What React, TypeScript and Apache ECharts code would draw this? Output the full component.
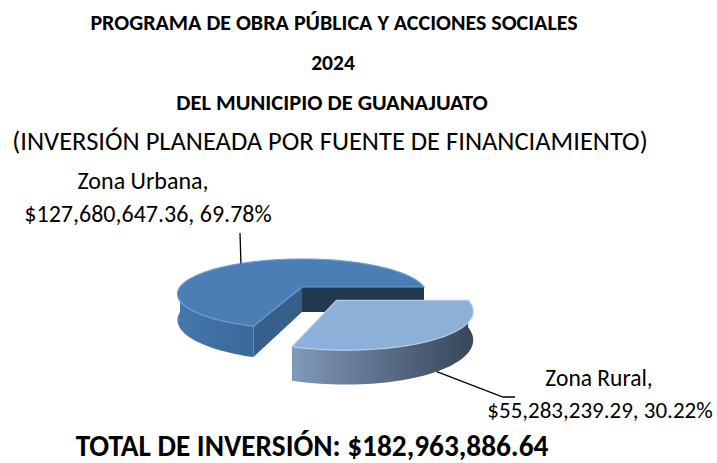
import React, { useEffect, useRef } from "react";
import * as echarts from "echarts";

const categories = ["Zona Urbana", "Zona Rural"];
const values = [127680647.36, 55283239.29];
const explodeRatios = [0, 0.45];
const totalInvestment = 182963886.64;
const titleLines = ["PROGRAMA DE OBRA PÚBLICA Y ACCIONES SOCIALES", "2024", "DEL MUNICIPIO DE GUANAJUATO"];
const subtitle = "(INVERSIÓN PLANEADA POR FUENTE DE FINANCIAMIENTO)";
const totalPrefix = "TOTAL DE INVERSIÓN: ";

const FONT = "Carlito, Lato, 'Open Sans', sans-serif";

const fmtMoney = (v: number) =>
  "$" + v.toLocaleString("en-US", { minimumFractionDigits: 2, maximumFractionDigits: 2 });

// 3D projection params
const CX = 302, CY = 287, R = 122, RS = 33.6, D = 5, H = 25;
const FIRST_ANGLE = 108.8;

const topColors = ["#4A7EB5", "#8DB0D9"];
const rimColors = ["#6E9FD2", "#B4CDEA"];
const wallStops = [
  [
    { offset: 0, color: "#4577AD" },
    { offset: 1, color: "#3A6899" },
  ],
  [
    { offset: 0, color: "#8199B9" },
    { offset: 0.45, color: "#5F738E" },
    { offset: 1, color: "#37465A" },
  ],
];
const startFaceColors = ["#375F8B", "#5A7090"];
const endFaceColors = ["#21384F", "#3A4A5E"];

const labelAnchors: number[][][] = [
  [[240, 233]],
  [[503, 397], [515, 397]],
];

function proj(X: number, Z: number, Y: number): number[] {
  const p = D / (D - Z);
  return [CX + R * X * p, CY + (RS * Z + Y) * p];
}

export default function App() {
  const ref = useRef<HTMLDivElement>(null);
  useEffect(() => {
    const chart = echarts.init(ref.current!, null, { renderer: "svg" });
    const total = values.reduce((a, b) => a + b, 0);

    const renderItem = (params: any, api: any) => {
      const idx = params.dataIndex;
      const val = api.value(0);
      let before = 0;
      for (let i = 0; i < idx; i++) before += values[i];
      const start = FIRST_ANGLE + (360 * before) / total;
      const end = start + (360 * val) / total;
      const mid = (start + end) / 2;
      const rad = (d: number) => (d * Math.PI) / 180;
      const e = explodeRatios[idx];
      const ox = e * Math.cos(rad(mid));
      const oz = e * Math.sin(rad(mid));
      const pt = (deg: number, r: number, y: number) =>
        proj(ox + r * Math.cos(rad(deg)), oz + r * Math.sin(rad(deg)), y);
      const arc = (a: number, b: number, y: number) => {
        const pts: number[][] = [];
        const n = Math.max(8, Math.ceil(Math.abs(b - a) / 2));
        for (let i = 0; i <= n; i++) pts.push(pt(a + ((b - a) * i) / n, 1, y));
        return pts;
      };
      const children: any[] = [];
      // outer walls (front-facing)
      for (let k = 0; k < 2; k++) {
        const a = Math.max(start, 360 * k);
        const b = Math.min(end, 360 * k + 180);
        if (b > a) {
          const top = arc(a, b, 0);
          const bot = arc(a, b, H).reverse();
          const all = top.concat(bot);
          const xs = all.map((p) => p[0]);
          children.push({
            type: "polygon",
            shape: { points: all },
            style: {
              fill: {
                type: "linear",
                x: Math.min(...xs),
                y: 0,
                x2: Math.max(...xs),
                y2: 0,
                global: true,
                colorStops: wallStops[idx],
              },
              stroke: "none",
            },
          });
        }
      }
      const apex0 = pt(0, 0, 0);
      const apex1 = pt(0, 0, H);
      // end face (normal toward end+90)
      if (Math.sin(rad(end + 90)) > 0) {
        const p0 = pt(end, 1, 0);
        const p1 = pt(end, 1, H);
        children.push({
          type: "polygon",
          shape: { points: [apex0, p0, p1, apex1] },
          style: { fill: endFaceColors[idx] },
        });
      }
      // start face (normal toward start-90)
      if (Math.sin(rad(start - 90)) > 0) {
        const p0 = pt(start, 1, 0);
        const p1 = pt(start, 1, H);
        children.push({
          type: "polygon",
          shape: { points: [apex0, p0, p1, apex1] },
          style: { fill: startFaceColors[idx] },
        });
      }
      // top face
      children.push({
        type: "polygon",
        shape: { points: [apex0].concat(arc(start, end, 0)) },
        style: { fill: topColors[idx], stroke: rimColors[idx], lineWidth: 1.2 },
      });
      // leader line
      const from = idx === 0 ? pt(mid, 1, 0) : pt(mid, 1, H);
      children.push({
        type: "polyline",
        shape: { points: [from].concat(labelAnchors[idx]) },
        style: { stroke: "#000", lineWidth: 1.3, fill: "none" },
        z2: 10,
      });
      return { type: "group", children };
    };

    const pct = (v: number) => ((100 * v) / total).toFixed(2) + "%";
    const labelText = (i: number) => [categories[i] + ",", fmtMoney(values[i]) + ", " + pct(values[i])];
    const l0 = labelText(0);
    const l1 = labelText(1);

    const txt = (text: string, x: number, y: number, size: number, weight: string) => ({
      type: "text",
      x,
      y,
      style: {
        text,
        fill: "#000",
        font: `${weight} ${size}px ${FONT}`,
        textAlign: "center",
        textVerticalAlign: "middle",
      },
    });

    chart.setOption({
      animation: false,
      backgroundColor: "#fff",
      series: [
        {
          type: "custom",
          coordinateSystem: "none",
          renderItem,
          data: values.map((v, i) => ({ name: categories[i], value: [v] })),
          silent: true,
        },
      ],
      graphic: [
        txt(titleLines[0], 334, 22, 22, "bold"),
        txt(titleLines[1], 333, 63, 21.5, "bold"),
        txt(titleLines[2], 332, 102, 22.5, "bold"),
        txt(subtitle, 330, 141, 26.5, "normal"),
        txt(l0[0], 143, 180, 24, "normal"),
        txt(l0[1], 148, 213, 24, "normal"),
        txt(l1[0], 599, 378, 23.5, "normal"),
        txt(l1[1], 600, 410, 23, "normal"),
        txt(totalPrefix + fmtMoney(totalInvestment), 312, 446, 29.3, "bold"),
      ],
    });
    return () => chart.dispose();
  }, []);
  return <div ref={ref} style={{ position: "fixed", left: 0, top: 0, width: 717, height: 463 }} />;
}
